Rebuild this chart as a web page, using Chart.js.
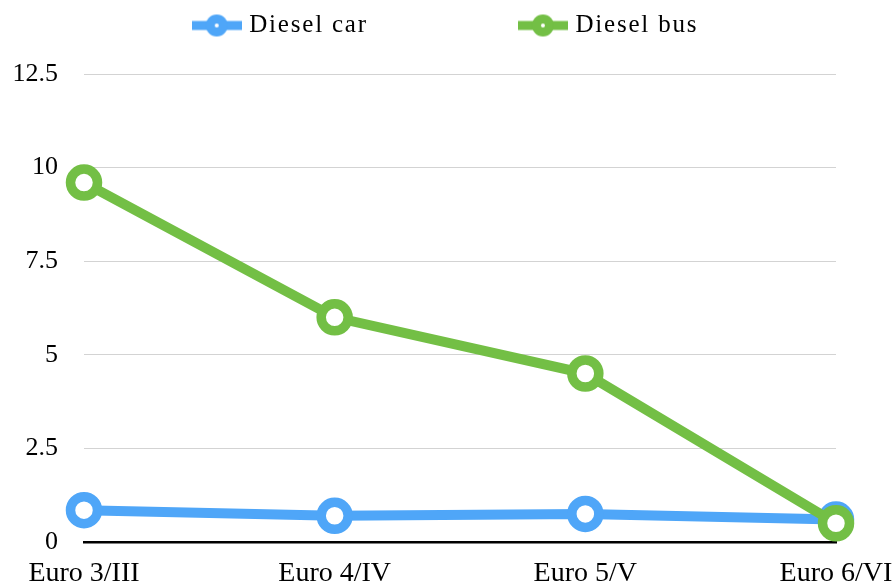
<!DOCTYPE html>
<html>
<head>
<meta charset="utf-8">
<script src="https://cdn.jsdelivr.net/npm/chart.js@4/dist/chart.umd.min.js"></script>
<style>
  html, body { margin: 0; padding: 0; background: #ffffff; }
  #wrap { width: 895px; height: 585px; }
</style>
</head>
<body>
<div id="wrap"><canvas id="c" width="895" height="585"></canvas></div>
<script>
const categories = ['Euro 3/III', 'Euro 4/IV', 'Euro 5/V', 'Euro 6/VI'];
const seriesNames = ['Diesel car', 'Diesel bus'];
const dieselCar = [0.85, 0.7, 0.75, 0.6];
const dieselBus = [9.6, 6.0, 4.5, 0.5];
const yTicks = [0, 2.5, 5, 7.5, 10, 12.5];

const BLUE = '#4FA6F8';
const GREEN = '#73BF45';
const FONT = '"Liberation Serif", "Times New Roman", serif';

function legendIcon(color) {
  const cv = document.createElement('canvas');
  cv.width = 50; cv.height = 26;
  const g = cv.getContext('2d');
  g.fillStyle = color;
  g.fillRect(0, 13 - 4.5, 50, 9);
  g.beginPath(); g.arc(25, 13, 11, 0, Math.PI * 2); g.fill();
  g.fillStyle = '#ffffff';
  g.beginPath(); g.arc(25, 13, 2, 0, Math.PI * 2); g.fill();
  return cv;
}
const icons = [legendIcon(BLUE), legendIcon(GREEN)];

const legendSpacing = {
  id: 'legendSpacing',
  afterInit(chart) {
    const lg = chart.legend;
    if (!lg) return;
    const wrap = (fn) => function (...args) {
      const c = this.ctx;
      const prev = c.letterSpacing;
      c.letterSpacing = '1.8px';
      try { return fn.apply(this, args); } finally { c.letterSpacing = prev; }
    };
    lg.fit = wrap(lg.fit);
    lg.draw = wrap(lg.draw);
  }
};

new Chart(document.getElementById('c'), {
  type: 'line',
  plugins: [legendSpacing],
  data: {
    labels: categories,
    datasets: [
      {
        label: seriesNames[0], data: dieselCar, order: 1,
        borderColor: BLUE, backgroundColor: '#ffffff',
        borderWidth: 10, pointRadius: 13.5, pointBorderWidth: 9.5,
        pointBackgroundColor: '#ffffff', pointBorderColor: BLUE,
        tension: 0, fill: false
      },
      {
        label: seriesNames[1], data: dieselBus, order: 0,
        borderColor: GREEN, backgroundColor: '#ffffff',
        borderWidth: 10, pointRadius: 13.5, pointBorderWidth: 9.5,
        pointBackgroundColor: '#ffffff', pointBorderColor: GREEN,
        tension: 0, fill: false
      }
    ]
  },
  options: {
    responsive: false,
    animation: false,
    layout: { padding: 0 },
    scales: {
      x: {
        offset: false,
        grid: { display: false, drawTicks: false },
        border: { display: true, color: '#000000', width: 2.5 },
        ticks: { color: '#000000', font: { family: FONT, size: 28 }, padding: 15, maxRotation: 0, autoSkip: false },
        afterFit: (s) => { s.height = 43; s.paddingRight = 59; s.paddingLeft = 0; }
      },
      y: {
        min: 0, max: 12.5,
        afterBuildTicks: (s) => { s.ticks = yTicks.map(v => ({ value: v })); },
        grid: { color: '#D3D3D3', lineWidth: 1, drawTicks: false },
        border: { display: false },
        ticks: { color: '#000000', font: { family: FONT, size: 26 }, padding: 26 },
        afterFit: (s) => { s.width = 84; }
      }
    },
    plugins: {
      tooltip: { enabled: false },
      title: {
        display: true, text: '', weight: 500,
        padding: { top: 0, bottom: 16 },
        font: { size: 10, lineHeight: 1 }
      },
      legend: {
        position: 'top',
        labels: {
          color: '#000000',
          font: { family: FONT, size: 25 },
          padding: 13,
          usePointStyle: true,
          pointStyleWidth: 40,
          generateLabels: (chart) => {
            const items = Chart.defaults.plugins.legend.labels.generateLabels(chart);
            items.sort((a, b) => a.datasetIndex - b.datasetIndex);
            return items.map((it) => {
              it.pointStyle = icons[it.datasetIndex];
              if (it.datasetIndex === 0) it.text = it.text + '\u2003\u2003\u2003\u2003\u2003 ';
              return it;
            });
          }
        }
      }
    }
  }
});
</script>
</body>
</html>
